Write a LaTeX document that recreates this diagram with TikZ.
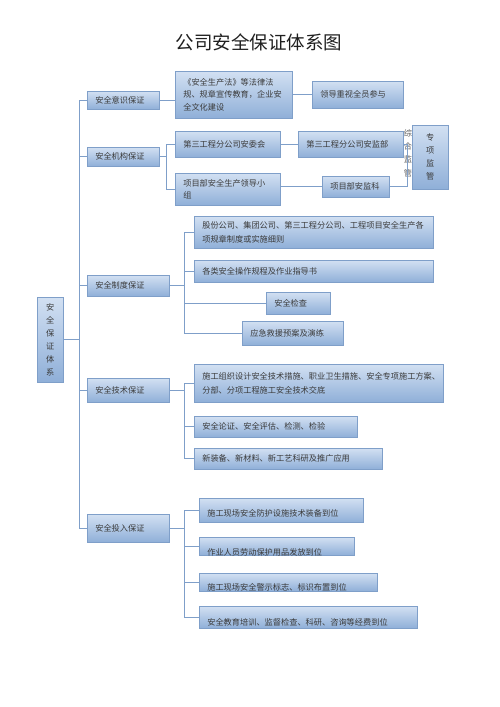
\documentclass[tikz,border=0pt]{standalone}
\usepackage{fontspec}
\setmainfont{Noto Sans CJK SC}
\usetikzlibrary{shadows}
\definecolor{bxline}{HTML}{7F9FC9}
\definecolor{bxtop}{HTML}{D2E0F2}
\definecolor{bxbot}{HTML}{8FAFD8}
\definecolor{txt}{HTML}{3A3A3A}
\definecolor{lncol}{HTML}{7F9FC9}
\tikzset{
  bx/.style={draw=bxline, line width=0.6pt, top color=bxtop, bottom color=bxbot,
    anchor=north west, inner xsep=8pt, inner ysep=0pt, align=left, text=txt,
    font=\fontsize{8.2}{13}\selectfont,
    drop shadow={opacity=0.25, shadow xshift=1pt, shadow yshift=-1pt}},
  ln/.style={draw=lncol, line width=0.8pt},
}
\begin{document}
\begin{tikzpicture}[x=1pt,y=-1pt]
\useasboundingbox[fill=white] (0,0) rectangle (500,707);
\node[font=\fontsize{18.5}{20}\selectfont, text=black!88] (title) at (259,42) {公司安全保证体系图};

% root
\node[bx, align=center, text width=12pt, inner xsep=7pt, minimum height=85pt] (root) at (37,297) {安\\全\\保\\证\\体\\系};

% level 1
\node[bx, text width=56pt, minimum height=18pt] (L1a) at (87,91) {安全意识保证};
\node[bx, text width=56pt, minimum height=19pt] (L1b) at (87,147) {安全机构保证};
\node[bx, text width=66pt, minimum height=21pt] (L1c) at (87,275) {安全制度保证};
\node[bx, text width=66pt, minimum height=24pt] (L1d) at (87,378) {安全技术保证};
\node[bx, text width=66pt, minimum height=28pt] (L1e) at (87,514) {安全投入保证};

% A
\node[bx, text width=101pt, minimum height=47pt, font=\fontsize{8.2}{12.5}\selectfont] (A1) at (175,71) {《安全生产法》等法律法\\规、规章宣传教育，企业安\\全文化建设};
\node[bx, text width=75pt, minimum height=27pt] (A2) at (312,81) {领导重视全员参与};

% B
\node[bx, text width=89pt, minimum height=26pt] (B1) at (175,131) {第三工程分公司安委会};
\node[bx, text width=89pt, minimum height=26pt] (B2) at (298,131) {第三工程分公司安监部};
\node[bx, text width=89pt, minimum height=32pt, font=\fontsize{8.2}{12}\selectfont] (B3) at (175,173) {项目部安全生产领导小\\组};
\node[bx, text width=51pt, minimum height=21pt] (B4) at (322,176) {项目部安监科};
\node[bx, align=center, text width=20pt, minimum height=64pt] (B5) at (412,125) {专\\项\\监\\管};
\node[font=\fontsize{8.2}{13.3}\selectfont, text=txt!80, align=center, inner sep=0pt] (zh) at (408,153) {综\\合\\监\\管};

% C
\node[bx, text width=223pt, minimum height=32pt, font=\fontsize{8.2}{13.3}\selectfont] (C1) at (194,216) {股份公司、集团公司、第三工程分公司、工程项目安全生产各\\项规章制度或实施细则};
\node[bx, text width=223pt, minimum height=22pt] (C2) at (194,260) {各类安全操作规程及作业指导书};
\node[bx, text width=48pt, minimum height=22pt] (C3) at (266,292) {安全检查};
\node[bx, text width=85pt, minimum height=24pt] (C4) at (242,321) {应急救援预案及演练};

% D
\node[bx, text width=233pt, minimum height=38pt, font=\fontsize{8.2}{14.2}\selectfont] (D1) at (194,364) {施工组织设计安全技术措施、职业卫生措施、安全专项施工方案、\\分部、分项工程施工安全技术交底};
\node[bx, text width=147pt, minimum height=21pt] (D2) at (194,416) {安全论证、安全评估、检测、检验};
\node[bx, text width=172pt, minimum height=21pt] (D3) at (194,448) {新装备、新材料、新工艺科研及推广应用};

% E
\node[bx, text width=148pt, minimum height=24pt, text height=18.3pt, text depth=5.7pt] (E1) at (199,498) {施工现场安全防护设施技术装备到位};
\node[bx, text width=139pt, minimum height=18pt, text height=18pt, text depth=0pt] (E2) at (199,537) {作业人员劳动保护用品发放到位};
\node[bx, text width=162pt, minimum height=18pt, text height=17pt, text depth=1pt] (E3) at (199,573) {施工现场安全警示标志、标识布置到位};
\node[bx, text width=202pt, minimum height=22pt, text height=19.5pt, text depth=2.5pt] (E4) at (199,606) {安全教育培训、监督检查、科研、咨询等经费到位};

% trunk
\coordinate (trk) at (79,0);
\draw[ln] (root.east) -- (root.east -| trk);
\draw[ln] (L1a.west) -- (L1a.west -| trk) -- (L1e.west -| trk) -- (L1e.west);
\foreach \n in {L1b,L1c,L1d} \draw[ln] (\n.west) -- (\n.west -| trk);

% A connectors
\draw[ln] (L1a.east) -- (L1a.east -| A1.west);
\draw[ln] (A1.east |- A2.west) -- (A2.west);

% B connectors
\draw[ln] (L1b.east) -- ++(7,0) coordinate (fb);
\draw[ln] (B1.west) -| (fb) |- (B3.west);
\draw[ln] (B1.east) -- (B2.west);
\draw[ln] (B3.east |- B4.west) -- (B4.west);
\draw[ln] (B2.east) -- ++(4,0) |- (B4.east);

% C connectors
\draw[ln] (L1c.east) -- ++(15,0) coordinate (fc);
\draw[ln] (C1.west) -| (fc) |- (C4.west);
\draw[ln] (fc |- C2.west) -- (C2.west);
\draw[ln] (fc |- C3.west) -- (C3.west);

% D connectors
\draw[ln] (L1d.east) -- ++(15,0) coordinate (fd);
\draw[ln] (D1.west) -| (fd) |- (D3.west);
\draw[ln] (fd |- D2.west) -- (D2.west);

% E connectors
\draw[ln] (L1e.east) -- ++(15,0) coordinate (fe);
\draw[ln] (E1.west) -| (fe) |- (E4.west);
\draw[ln] (fe |- E2.west) -- (E2.west);
\draw[ln] (fe |- E3.west) -- (E3.west);
\end{tikzpicture}
\end{document}
